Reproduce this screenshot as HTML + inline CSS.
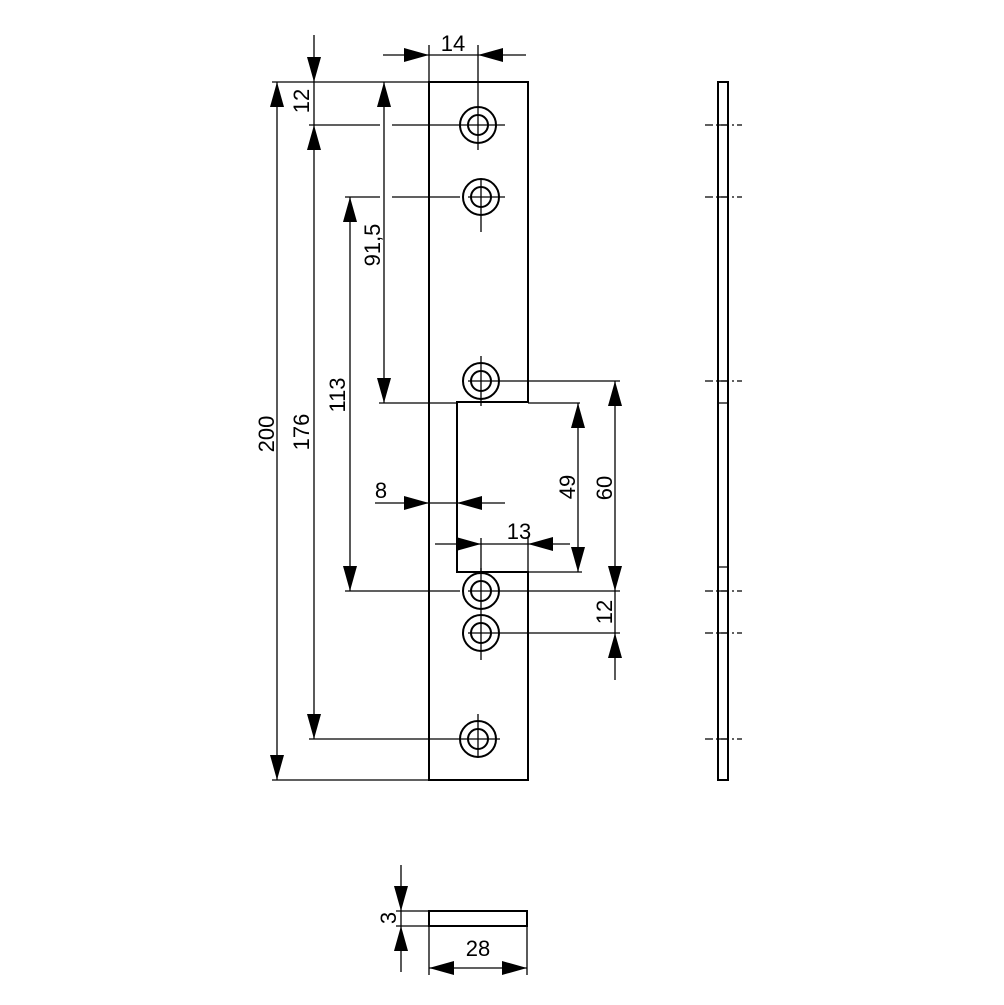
<!DOCTYPE html>
<html><head><meta charset="utf-8"><style>html,body{margin:0;padding:0;background:#fff}svg{display:block}</style></head>
<body>
<svg width="1004" height="1005" viewBox="0 0 1004 1005" xmlns="http://www.w3.org/2000/svg" font-family="Liberation Sans, Arial, sans-serif" font-size="22">
<g stroke="#000" fill="none" stroke-width="1.3">
<path d="M429,82 H528 V402 H457 V572 H528 V780 H429 Z" stroke-width="2"/>
<g>
<circle cx="478" cy="125" r="18" stroke-width="2"/><circle cx="478" cy="125" r="10" stroke-width="2"/>
<circle cx="481" cy="197" r="18" stroke-width="2"/><circle cx="481" cy="197" r="10" stroke-width="2"/>
<circle cx="481" cy="381" r="18" stroke-width="2"/><circle cx="481" cy="381" r="10" stroke-width="2"/>
<circle cx="481" cy="591" r="18" stroke-width="2"/><circle cx="481" cy="591" r="10" stroke-width="2"/>
<circle cx="481" cy="633" r="18" stroke-width="2"/><circle cx="481" cy="633" r="10" stroke-width="2"/>
<circle cx="478" cy="739" r="18" stroke-width="2"/><circle cx="478" cy="739" r="10" stroke-width="2"/>
</g>
<path d="M478,108 V150 M481,180 V232 M481,356 V406 M481,568 V660 M478,714 V756"/>
<path d="M468,381 H500 M460,739 H500 M468,197 H505 M468,591 H620 M468,633 H620"/>
<rect x="718" y="82" width="10" height="698" stroke-width="2"/>
<path d="M718,125 H728 M718,197 H728 M718,381 H728 M718,403 H728 M718,567 H728 M718,591 H728 M718,633 H728 M718,739 H728"/>
<g stroke-dasharray="8,3,2,3">
<path d="M705,125 H742 M705,197 H742 M705,381 H742 M705,591 H742 M705,633 H742 M705,739 H742"/>
</g>
<rect x="429" y="911" width="98" height="15" stroke-width="2"/>
<path d="M272,82 H429 M277,82 V780 M272,780 H429"/>
<path d="M314,35 V739 M309,125 H380 M392,125 H505 M309,739 H460"/>
<path d="M384,82 V403 M379,403 H457 M528,403 H580"/>
<path d="M350,197 V591 M345,197 H380 M392,197 H460 M345,591 H460"/>
<path d="M383,55 H526 M429,45 V82 M478,45 V107"/>
<path d="M375,503 H505"/>
<path d="M435,544 H570 M481,538 V572 M528,538 V572"/>
<path d="M578,403 V572 M528,572 H582"/>
<path d="M615,381 V680 M500,381 H620"/>
<path d="M401,865 V972 M396,911 H429 M396,926 H429 M429,926 V975 M527,926 V975 M429,968 H527"/>
</g>
<g fill="#000">
<polygon points="277,82 270,107 284,107"/><polygon points="277,780 270,755 284,755"/>
<polygon points="314,82 307,57 321,57"/><polygon points="314,125 307,150 321,150"/>
<polygon points="314,739 307,714 321,714"/>
<polygon points="384,82 377,107 391,107"/><polygon points="384,403 377,378 391,378"/>
<polygon points="350,197 343,222 357,222"/><polygon points="350,591 343,566 357,566"/>
<polygon points="429,55 404,48 404,62"/><polygon points="478,55 503,48 503,62"/>
<polygon points="429,503 404,496 404,510"/><polygon points="457,503 482,496 482,510"/>
<polygon points="481,544 456,537 456,551"/><polygon points="528,544 553,537 553,551"/>
<polygon points="578,403 571,428 585,428"/><polygon points="578,572 571,547 585,547"/>
<polygon points="615,381 608,406 622,406"/><polygon points="615,591 608,566 622,566"/>
<polygon points="615,633 608,658 622,658"/>
<polygon points="401,911 394,886 408,886"/><polygon points="401,926 394,951 408,951"/>
<polygon points="429,968 454,961 454,975"/><polygon points="527,968 502,961 502,975"/>
</g>
<g fill="#000" text-anchor="middle">
<text transform="translate(274,434) rotate(-90)">200</text>
<text transform="translate(309,432) rotate(-90)">176</text>
<text transform="translate(345,395) rotate(-90)">113</text>
<text transform="translate(380,245) rotate(-90)">91,5</text>
<text transform="translate(309,101) rotate(-90)">12</text>
<text transform="translate(575,487) rotate(-90)">49</text>
<text transform="translate(612,488) rotate(-90)">60</text>
<text transform="translate(612,612) rotate(-90)">12</text>
<text transform="translate(396,918) rotate(-90)">3</text>
<text x="453" y="51">14</text>
<text x="381" y="498">8</text>
<text x="519" y="539">13</text>
<text x="478" y="956">28</text>
</g>
</svg>
</body></html>
